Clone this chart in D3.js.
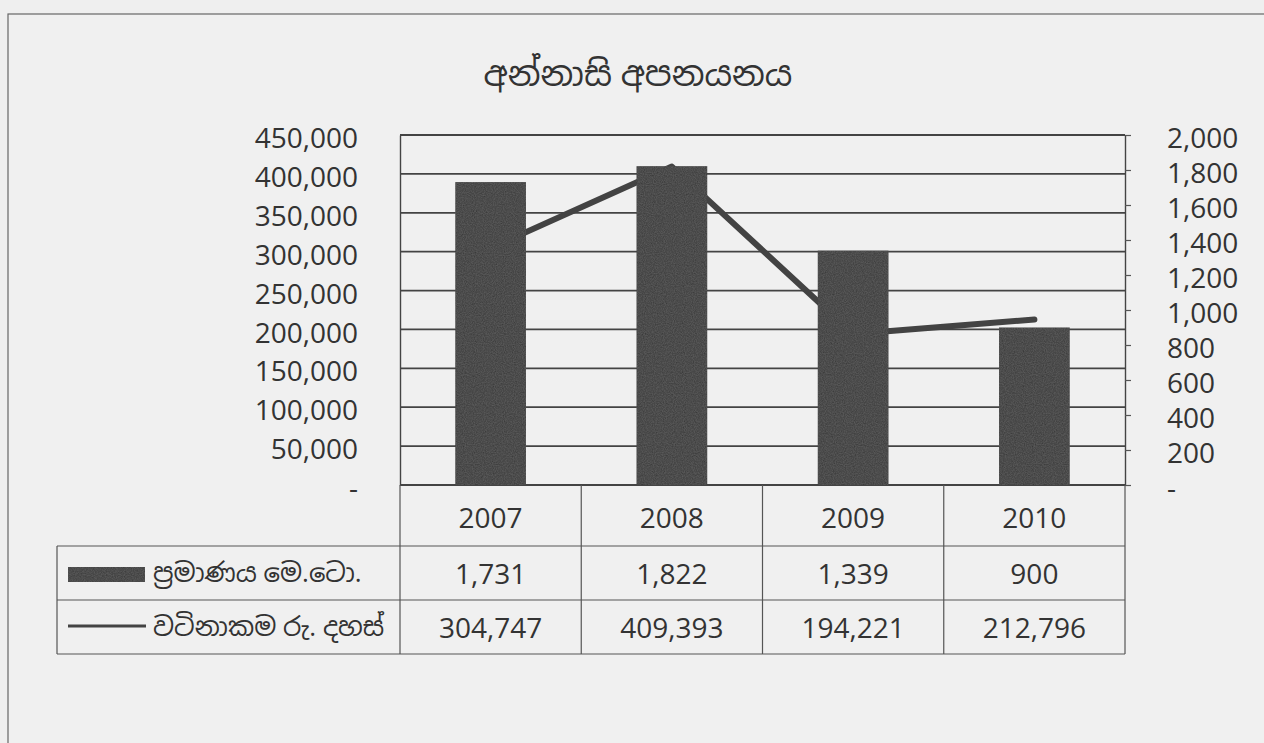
<!DOCTYPE html>
<html lang="si">
<head>
    <meta charset="utf-8">
    <title>අන්නාසි අපනයනය</title>
    <script src="https://d3js.org/d3.v7.min.js"></script>
    <style>
        body { margin: 0; background: #efefef; }
        text { font-family: "Open Sans", "Noto Sans Sinhala", "Noto Serif Sinhala", "Noto Sans", sans-serif; fill: #333; }
    </style>
</head>
<body>
    <div id="chart"></div>
    <script>
        // Data
        const years = ["2007", "2008", "2009", "2010"];
        const quantity = [1731, 1822, 1339, 900];          // ප්‍රමාණය මෙ.ටො. (bars, right axis)
        const value = [304747, 409393, 194221, 212796];    // වටිනාකම රු. දහස් (line, left axis)
        const leftTicks = [0, 50000, 100000, 150000, 200000, 250000, 300000, 350000, 400000, 450000];
        const rightTicks = [0, 200, 400, 600, 800, 1000, 1200, 1400, 1600, 1800, 2000];
        const seriesNames = ["ප්‍රමාණය මෙ.ටො.", "වටිනාකම රු. දහස්"];
        const title = "අන්නාසි අපනයනය";

        const width = 1264;
        const height = 743;
        const plot = { left: 400, right: 1125, top: 135, bottom: 485 };
        const rowsY = [485, 546, 600, 654];
        const tableLeft = 57;
        const barColor = "#353535";

        const svg = d3.select("#chart").append("svg")
            .attr("width", width)
            .attr("height", height);

        // grainy print texture for the dark marks
        const filter = svg.append("defs").append("filter")
            .attr("id", "grain")
            .attr("x", 0).attr("y", 0).attr("width", 1).attr("height", 1);
        filter.append("feTurbulence")
            .attr("type", "fractalNoise")
            .attr("baseFrequency", 0.9)
            .attr("numOctaves", 2)
            .attr("seed", 3)
            .attr("result", "noise");
        filter.append("feColorMatrix")
            .attr("in", "noise")
            .attr("type", "matrix")
            .attr("values", "0 0 0 0 0.3  0 0 0 0 0.3  0 0 0 0 0.3  0 0 0 0.3 0")
            .attr("result", "tint");
        filter.append("feComposite")
            .attr("in", "tint").attr("in2", "SourceGraphic")
            .attr("operator", "in").attr("result", "spots");
        filter.append("feMerge").selectAll("feMergeNode")
            .data(["SourceGraphic", "spots"])
            .join("feMergeNode")
            .attr("in", d => d);

        // outer frame
        svg.append("rect")
            .attr("x", 8).attr("y", 14)
            .attr("width", width + 20).attr("height", height)
            .attr("fill", "#f0f0f0")
            .attr("stroke", "#666").attr("stroke-width", 1.2);

        // Scales
        const x = d3.scalePoint()
            .domain(years)
            .range([plot.left, plot.right])
            .padding(0.5);
        const step = x.step();
        const barW = step * 0.39;

        const yLeft = d3.scaleLinear().domain([0, 450000]).range([plot.bottom, plot.top]);
        const yRight = d3.scaleLinear().domain([0, 2000]).range([plot.bottom, plot.top]);

        const fmt = d => d === 0 ? "-" : d3.format(",")(d);

        // Title
        svg.append("text")
            .attr("x", 638).attr("y", 86)
            .attr("text-anchor", "middle")
            .attr("font-size", 34)
            .text(title);

        // Gridlines
        svg.append("g")
            .selectAll("line")
            .data(leftTicks)
            .join("line")
            .attr("x1", plot.left).attr("x2", plot.right)
            .attr("y1", d => yLeft(d)).attr("y2", d => yLeft(d))
            .attr("stroke", "#444").attr("stroke-width", 1.8);

        // Left axis
        const leftAxis = svg.append("g")
            .attr("transform", `translate(${plot.left},0)`)
            .call(d3.axisLeft(yLeft).tickValues(leftTicks).tickFormat(fmt).tickSize(0).tickPadding(42));
        leftAxis.select(".domain").attr("stroke", "#444").attr("stroke-width", 1.4);
        leftAxis.selectAll("text").attr("font-size", 28).attr("fill", "#333").attr("dy", "0.45em")
            .style("font-family", "'Open Sans', sans-serif");

        // Right axis
        const rightAxis = svg.append("g")
            .attr("transform", `translate(${plot.right},0)`)
            .call(d3.axisRight(yRight).tickValues(rightTicks).tickFormat(fmt).tickSizeInner(6).tickSizeOuter(0).tickPadding(36));
        rightAxis.select(".domain").attr("stroke", "#444").attr("stroke-width", 1.4);
        rightAxis.selectAll(".tick line").attr("stroke", "#555").attr("stroke-width", 1.2);
        rightAxis.selectAll("text").attr("font-size", 28).attr("fill", "#333").attr("dy", "0.45em")
            .style("font-family", "'Open Sans', sans-serif");

        // Line (drawn below the bars)
        const line = d3.line()
            .x((d, i) => x(years[i]))
            .y(d => yLeft(d));
        svg.append("path")
            .datum(value)
            .attr("d", line)
            .attr("fill", "none")
            .attr("stroke", "#434343")
            .attr("stroke-width", 6)
            .attr("stroke-linecap", "round")
            .attr("stroke-linejoin", "round");

        // Bars
        svg.append("g")
            .selectAll("rect")
            .data(quantity)
            .join("rect")
            .attr("x", (d, i) => x(years[i]) - barW / 2)
            .attr("y", d => yRight(d))
            .attr("width", barW)
            .attr("height", d => plot.bottom - yRight(d))
            .attr("fill", barColor)
            .attr("filter", "url(#grain)");

        // Data table
        const table = svg.append("g").attr("stroke", "#555").attr("stroke-width", 1.2).attr("fill", "none");
        table.append("line").attr("x1", plot.left).attr("x2", plot.left).attr("y1", rowsY[0]).attr("y2", rowsY[3]);
        table.selectAll(".row")
            .data(rowsY.slice(1))
            .join("line")
            .attr("x1", tableLeft).attr("x2", plot.right)
            .attr("y1", d => d).attr("y2", d => d);
        table.append("line").attr("x1", tableLeft).attr("x2", tableLeft).attr("y1", rowsY[1]).attr("y2", rowsY[3]);
        table.selectAll(".col")
            .data(years)
            .join("line")
            .attr("x1", d => x(d) + step / 2).attr("x2", d => x(d) + step / 2)
            .attr("y1", rowsY[0]).attr("y2", rowsY[3]);

        // year labels
        svg.append("g").selectAll("text")
            .data(years)
            .join("text")
            .attr("x", d => x(d))
            .attr("y", (rowsY[0] + rowsY[1]) / 2 + 12)
            .attr("text-anchor", "middle")
            .attr("font-size", 28)
            .text(d => d);

        // values
        [quantity, value].forEach((series, r) => {
            svg.append("g").selectAll("text")
                .data(series)
                .join("text")
                .attr("x", (d, i) => x(years[i]))
                .attr("y", (rowsY[r + 1] + rowsY[r + 2]) / 2 + 11)
                .attr("text-anchor", "middle")
                .attr("font-size", 28)
                .text(d => d3.format(",")(d));
        });

        // legend keys
        svg.append("rect")
            .attr("x", 68).attr("y", 567)
            .attr("width", 77).attr("height", 15)
            .attr("fill", barColor)
            .attr("filter", "url(#grain)");
        svg.append("line")
            .attr("x1", 68).attr("x2", 146)
            .attr("y1", 626).attr("y2", 626)
            .attr("stroke", "#434343").attr("stroke-width", 3);

        svg.append("g").selectAll("text")
            .data(seriesNames)
            .join("text")
            .attr("x", 153)
            .attr("y", (d, i) => (rowsY[i + 1] + rowsY[i + 2]) / 2 + 9)
            .attr("font-size", 26)
            .text(d => d);
    </script>
</body>
</html>
